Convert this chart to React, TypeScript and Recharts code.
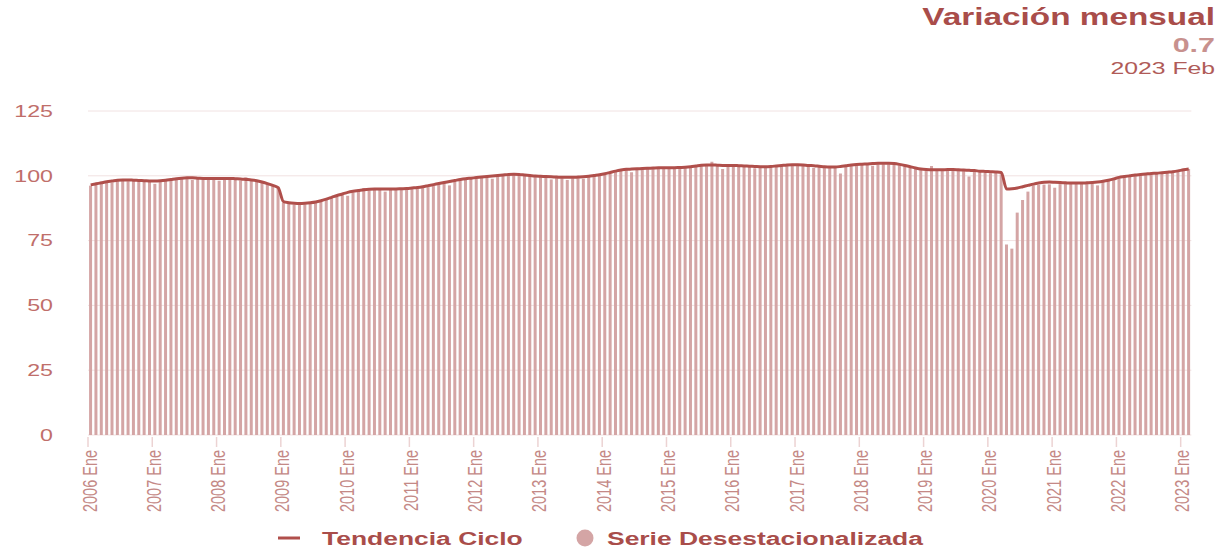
import { ComposedChart, Bar, Line, XAxis, YAxis, CartesianGrid } from 'recharts';

// Serie mensual 2006 Ene - 2023 Feb
const years = [2006, 2007, 2008, 2009, 2010, 2011, 2012, 2013, 2014, 2015, 2016, 2017, 2018, 2019, 2020, 2021, 2022, 2023];
const monthNames = ['Ene', 'Feb', 'Mar', 'Abr', 'May', 'Jun', 'Jul', 'Ago', 'Sep', 'Oct', 'Nov', 'Dic'];
const lastYearMonths = 2;

const yTicks = [0, 25, 50, 75, 100, 125];

// Serie Desestacionalizada (barras), un renglón por año
const serieDesestacionalizada = [
  96.2, 96.8, 97.0, 97.6, 97.4, 98.0, 98.2, 97.9, 98.1, 98.0, 97.6, 97.9,
  96.9, 97.8, 98.1, 98.4, 98.7, 98.9, 99.0, 98.4, 98.9, 98.7, 98.8, 98.6,
  98.1, 98.7, 98.6, 98.8, 98.2, 99.4, 98.2, 97.6, 97.3, 96.8, 96.0, 95.2,
  89.5, 89.2, 88.9, 88.8, 89.0, 89.2, 89.6, 90.1, 90.7, 91.4, 92.0, 92.8,
  92.3, 93.6, 94.0, 95.3, 94.4, 94.7, 94.6, 93.9, 94.6, 94.5, 94.7, 94.8,
  95.0, 95.3, 95.4, 96.0, 96.3, 96.8, 97.2, 96.3, 98.0, 98.3, 98.7, 98.9,
  99.0, 99.3, 99.4, 98.9, 99.8, 100.0, 100.3, 100.4, 100.2, 99.9, 99.8, 99.5,
  99.5, 99.4, 98.6, 99.2, 99.1, 98.4, 99.1, 99.3, 98.9, 99.5, 99.8, 100.1,
  100.5, 101.0, 101.5, 101.9, 102.2, 101.4, 102.4, 102.5, 102.6, 102.8, 102.9, 102.8,
  102.8, 102.9, 102.9, 103.0, 103.2, 103.5, 103.8, 103.9, 105.4, 103.8, 102.6, 103.7,
  103.7, 103.6, 103.5, 103.4, 102.9, 103.2, 103.2, 103.3, 103.5, 103.7, 103.9, 104.0,
  104.0, 103.9, 103.7, 103.0, 103.4, 103.2, 103.1, 103.1, 100.9, 103.6, 103.9, 104.1,
  104.2, 104.3, 103.9, 104.5, 104.5, 104.5, 104.4, 104.1, 103.7, 103.2, 102.7, 102.3,
  102.0, 103.8, 101.9, 102.0, 102.1, 102.1, 102.0, 101.9, 99.7, 101.6, 101.5, 101.2,
  101.0, 101.2, 100.6, 73.5, 71.9, 85.8, 90.7, 93.9, 96.3, 96.5, 96.6, 96.7,
  95.4, 96.8, 96.9, 97.0, 96.9, 96.9, 97.0, 97.1, 96.3, 97.6, 98.0, 98.4,
  99.1, 99.4, 99.7, 100.0, 100.2, 100.4, 100.6, 100.8, 101.0, 101.1, 101.4, 101.6,
  101.9, 102.6,
];

// Tendencia Ciclo (línea)
const tendenciaCiclo = [
  96.5, 96.9, 97.3, 97.7, 98.0, 98.3, 98.4, 98.4, 98.3, 98.2, 98.1, 98.0,
  98.0, 98.1, 98.3, 98.6, 98.9, 99.1, 99.2, 99.2, 99.1, 99.0, 99.0, 99.0,
  99.0, 99.0, 99.0, 98.9, 98.8, 98.6, 98.4, 98.1, 97.6, 97.0, 96.3, 95.4,
  90.0, 89.6, 89.4, 89.3, 89.4, 89.6, 89.9, 90.4, 91.0, 91.7, 92.4, 93.0,
  93.6, 94.0, 94.3, 94.6, 94.8, 94.9, 94.9, 94.9, 94.9, 94.9, 95.0, 95.1,
  95.3, 95.5, 95.8, 96.2, 96.6, 97.0, 97.4, 97.8, 98.2, 98.6, 98.9, 99.1,
  99.3, 99.5, 99.7, 99.9, 100.1, 100.3, 100.5, 100.6, 100.5, 100.3, 100.1, 99.9,
  99.8, 99.7, 99.6, 99.5, 99.4, 99.4, 99.4, 99.5, 99.6, 99.8, 100.1, 100.4,
  100.8, 101.3, 101.8, 102.2, 102.5, 102.6, 102.7, 102.8, 102.9, 103.0, 103.1, 103.1,
  103.1, 103.1, 103.2, 103.3, 103.5, 103.8, 104.1, 104.2, 104.2, 104.1, 104.0, 104.0,
  104.0, 103.9, 103.8, 103.7, 103.6, 103.5, 103.5, 103.6, 103.8, 104.0, 104.2, 104.3,
  104.3, 104.2, 104.0, 103.9, 103.7, 103.5, 103.4, 103.4, 103.6, 103.9, 104.2, 104.4,
  104.5, 104.6, 104.7, 104.8, 104.8, 104.8, 104.7, 104.4, 104.0, 103.5, 103.0, 102.6,
  102.4, 102.3, 102.3, 102.3, 102.4, 102.4, 102.3, 102.2, 102.1, 102.0, 101.8, 101.7,
  101.6, 101.5, 101.3, 94.9, 95.0, 95.3, 95.8, 96.3, 96.8, 97.2, 97.5, 97.6,
  97.5, 97.4, 97.3, 97.2, 97.2, 97.2, 97.3, 97.4, 97.6, 97.9, 98.3, 98.8,
  99.4, 99.7, 100.0, 100.3, 100.5, 100.7, 100.9, 101.0, 101.2, 101.4, 101.6, 101.9,
  102.3, 102.6,
];

const categories: string[] = [];
years.forEach((yr, yi) => {
  const n = yi === years.length - 1 ? lastYearMonths : 12;
  for (let m = 0; m < n; m++) categories.push(`${yr} ${monthNames[m]}`);
});

const chartData = categories.map((label, i) => ({
  label,
  serie: serieDesestacionalizada[i],
  tendencia: tendenciaCiclo[i],
}));

const BAR_COLOR = '#d4a5a5';
const LINE_COLOR = '#b04f4b';
const TITLE_COLOR = '#a94d4a';
const FONT = '"Liberation Sans", Arial, sans-serif';
const STRETCH = 1.45;

const PLOT_LEFT = 88;
const PLOT_RIGHT = 1191.4;
const HALF_BAND = (PLOT_RIGHT - PLOT_LEFT) / categories.length / 2;

const XTick = (props: any) => {
  const { x, payload } = props;
  const x0 = x - HALF_BAND;
  return (
    <g>
      <line x1={x0} x2={x0} y1={437} y2={447} stroke="#ecd3d3" strokeWidth={1.5} />
      <g transform={`translate(${x0 + 8.5}, 450) scale(${STRETCH}, 1)`}>
        <text transform="rotate(-90)" textAnchor="end" fontSize={14.5} fontFamily={FONT} fill="#c48986">
          {payload.value}
        </text>
      </g>
    </g>
  );
};

const YTick = (props: any) => {
  const { y, payload } = props;
  return (
    <g transform={`translate(53, ${y + 5.7}) scale(${STRETCH}, 1)`}>
      <text textAnchor="end" fontSize={16} fontFamily={FONT} fill="#c06e6a">
        {payload.value}
      </text>
    </g>
  );
};

const Overlay = () => (
  <svg width={1220} height={548} style={{ position: 'absolute', left: 0, top: 0, pointerEvents: 'none' }}>
    <g fontFamily={FONT}>
      <g transform={`translate(1215, 25) scale(${STRETCH}, 1)`}>
        <text textAnchor="end" fontSize={23} fontWeight="bold" fill={TITLE_COLOR}>Variación mensual</text>
      </g>
      <g transform={`translate(1215, 51.5) scale(${STRETCH}, 1)`}>
        <text textAnchor="end" fontSize={21} fontWeight="bold" fill="#c8918e">0.7</text>
      </g>
      <g transform={`translate(1215, 74) scale(1.5, 1)`}>
        <text textAnchor="end" fontSize={16.5} fill="#b05b58">2023 Feb</text>
      </g>

      {/* leyenda */}
      <line x1={278} x2={300} y1={538} y2={538} stroke={LINE_COLOR} strokeWidth={3} />
      <g transform={`translate(322, 545) scale(1.47, 1)`}>
        <text fontSize={18} fontWeight="bold" fill={TITLE_COLOR}>Tendencia Ciclo</text>
      </g>
      <circle cx={585} cy={538} r={8.5} fill={BAR_COLOR} />
      <g transform={`translate(607, 545) scale(1.47, 1)`}>
        <text fontSize={18} fontWeight="bold" fill={TITLE_COLOR}>Serie Desestacionalizada</text>
      </g>
    </g>
  </svg>
);

export default function App() {
  return (
    <div style={{ position: 'fixed', left: 0, top: 0, width: 1220, height: 548, background: '#fff' }}>
      <ComposedChart
        width={1220}
        height={548}
        data={chartData}
        margin={{ top: 111, right: 1220 - PLOT_RIGHT, left: PLOT_LEFT - 40, bottom: 83 }}
        barCategoryGap="20%"
      >
        <CartesianGrid vertical={false} stroke="#f1e2e2" />
        <XAxis
          dataKey="label"
          interval={11}
          height={30}
          axisLine={false}
          tickLine={false}
          tick={<XTick />}
        />
        <YAxis
          width={40}
          domain={[0, 125]}
          ticks={yTicks}
          axisLine={false}
          tickLine={false}
          tick={<YTick />}
        />
        <Bar dataKey="serie" name="Serie Desestacionalizada" fill={BAR_COLOR} isAnimationActive={false} />
        <Line
          type="monotone"
          dataKey="tendencia"
          name="Tendencia Ciclo"
          stroke={LINE_COLOR}
          strokeWidth={3}
          dot={false}
          isAnimationActive={false}
        />
      </ComposedChart>
      <Overlay />
    </div>
  );
}
